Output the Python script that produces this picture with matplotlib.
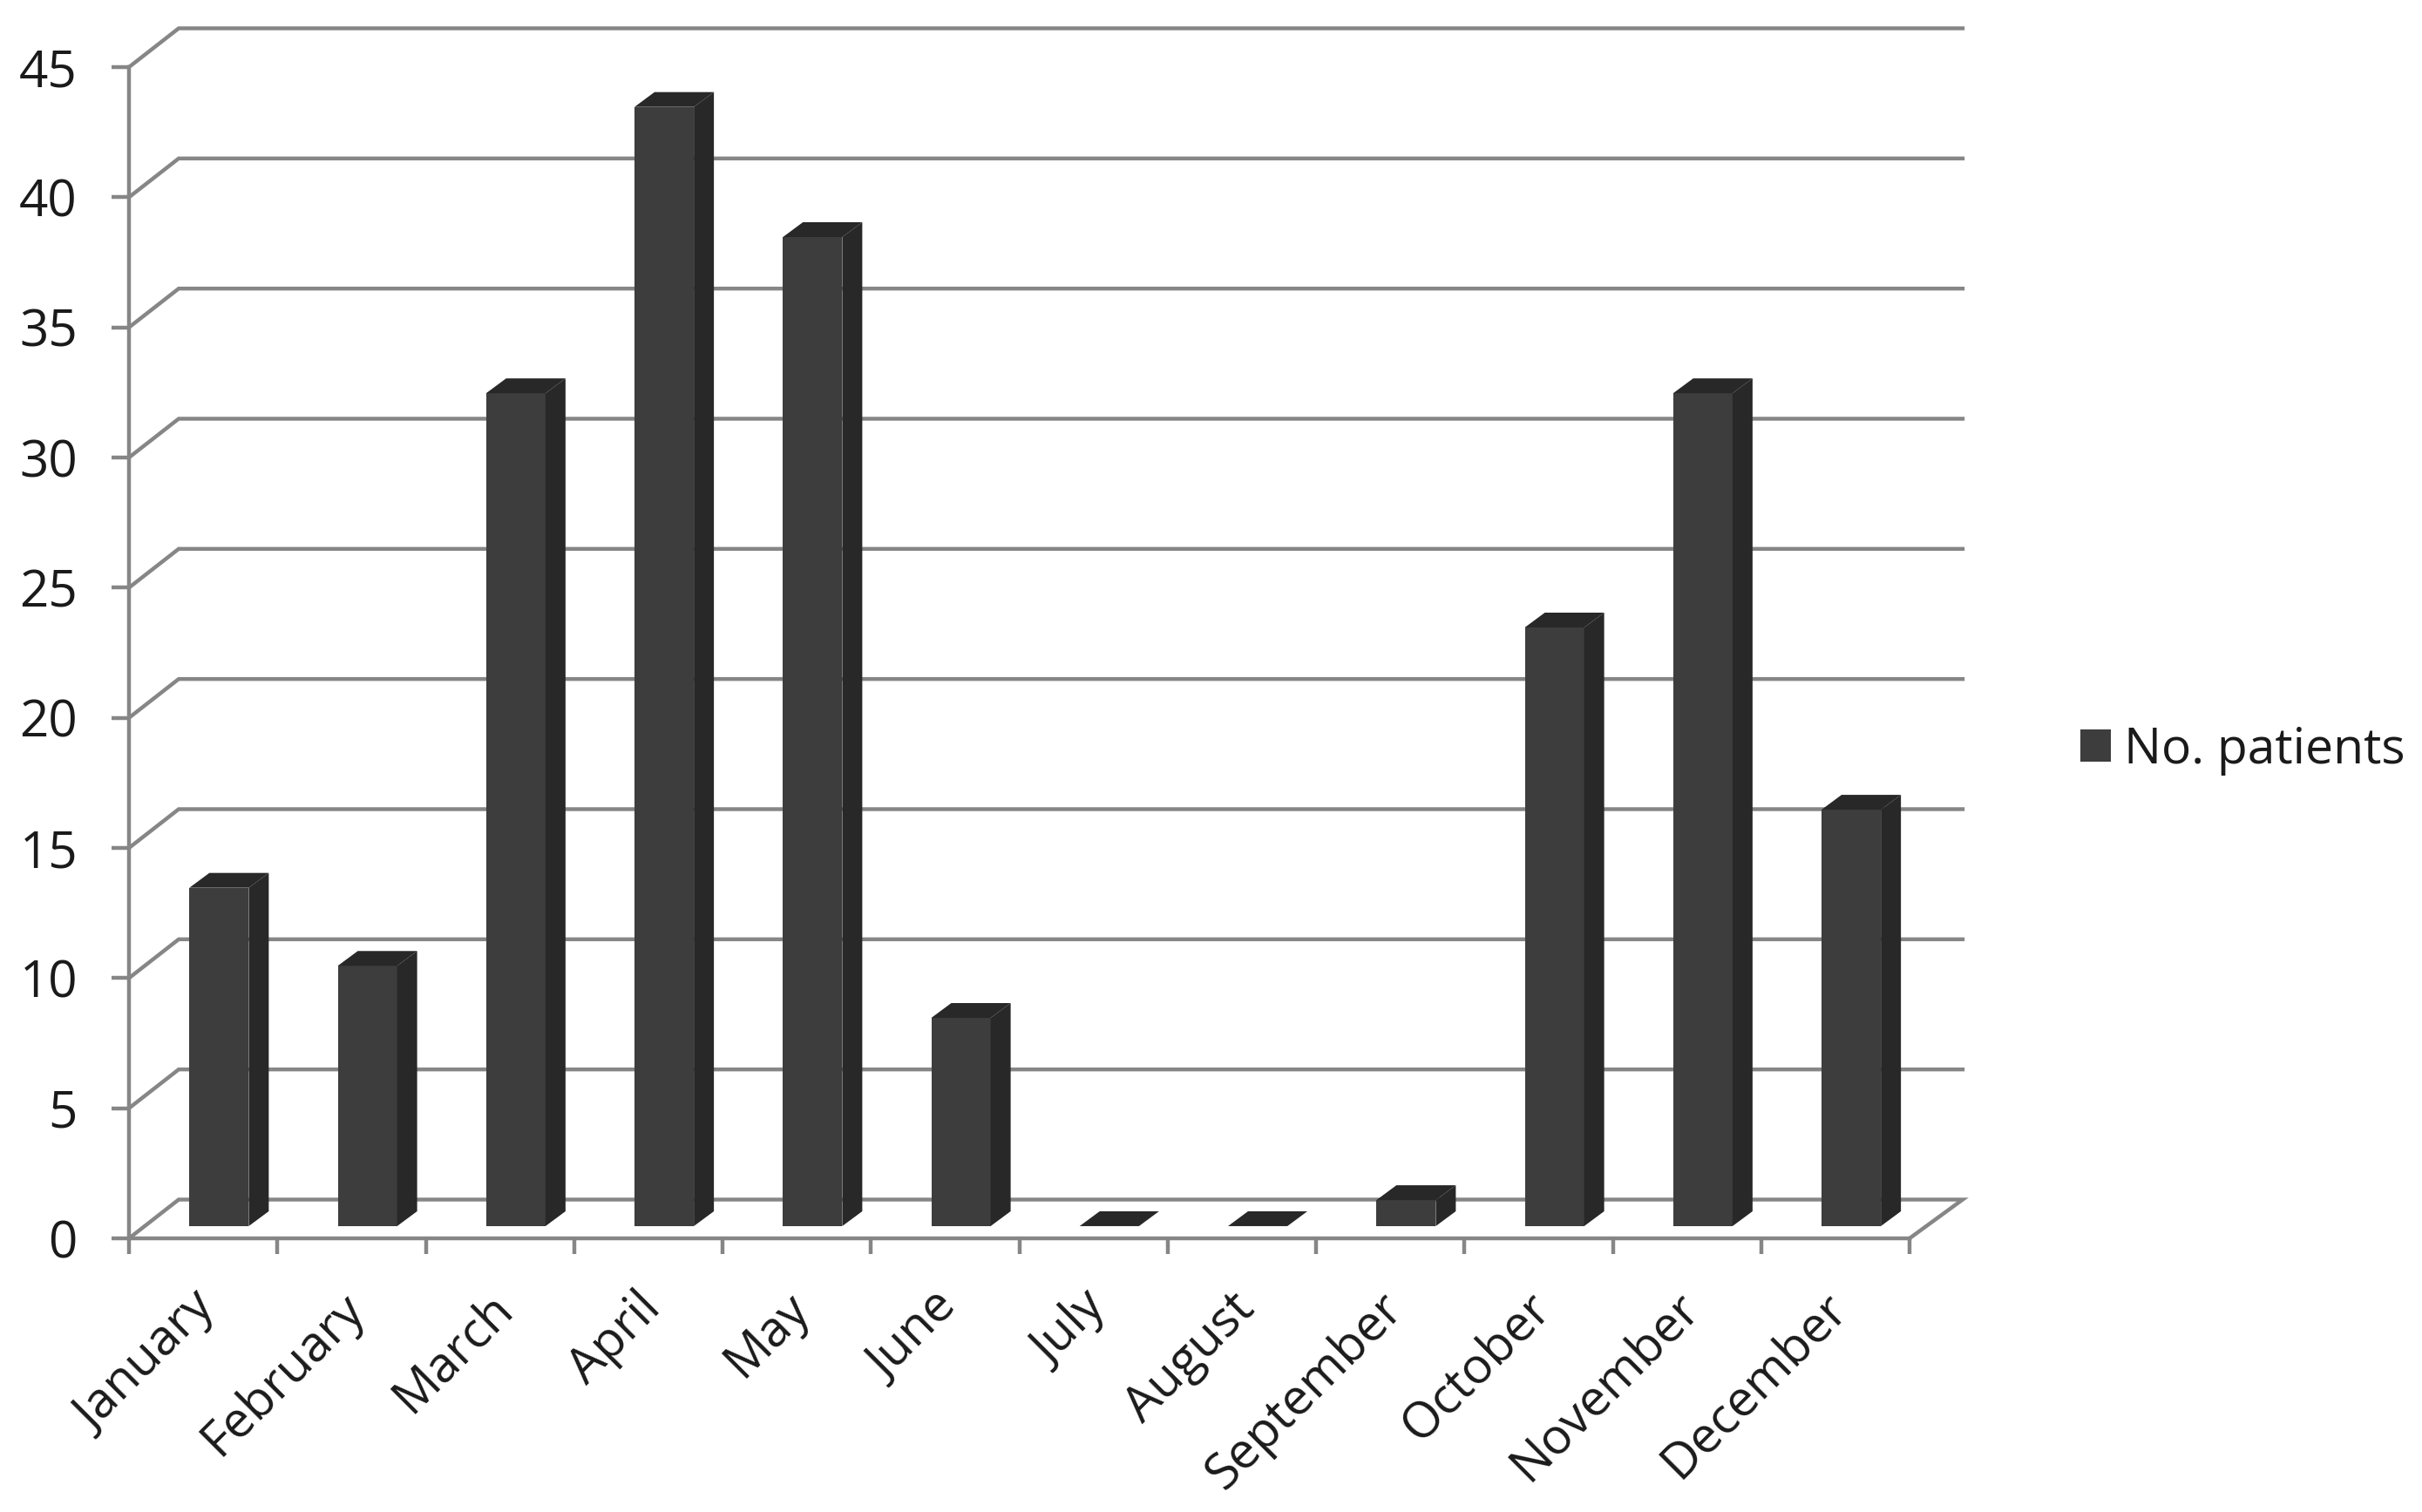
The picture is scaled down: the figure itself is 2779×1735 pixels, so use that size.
import numpy as np
import matplotlib
matplotlib.use("Agg")
import matplotlib.pyplot as plt
from matplotlib.patches import Polygon
from matplotlib.ticker import FixedLocator, NullFormatter
from matplotlib.transforms import ScaledTranslation

months = ["January", "February", "March", "April", "May", "June", "July",
          "August", "September", "October", "November", "December"]
patients = [13, 10, 32, 43, 38, 8, 0, 0, 1, 23, 32, 16]
y_ticks = [0, 5, 10, 15, 20, 25, 30, 35, 40, 45]

W, H = 2779, 1735
front_color = "#3d3d3d"
side_color = "#282828"
grid_color = "#868686"
text_color = "#1a1a1a"

plt.rcParams['font.family'] = ['Open Sans', 'DejaVu Sans']

fig = plt.figure(figsize=(W/100, H/100), dpi=100)
# front plane of the fake 3d box
ax = fig.add_axes([148/W, 1-1421/H, (2191-148)/W, (1421-77)/H])
ax.set_xlim(0, 12)
ax.set_ylim(0, 45)

# depth offsets, data units
wall_dx_left = 0.335
wall_dx_right = 0.358
wall_dy = 1.49
bar_floor = 0.47
bar_shift = 0.107
bar_width = 0.40
bar_dx = 0.135
bar_dy = 0.57

# back wall gridlines, also the floor
for v in y_ticks:
    xs = [0, wall_dx_left, 12+wall_dx_right]
    ys = [v, v+wall_dy, v+wall_dy]
    if v == 0:
        xs.append(12)
        ys.append(0)
    ax.plot(xs, ys, color=grid_color, lw=3.2, clip_on=False, zorder=1,
            solid_joinstyle='miter')

x = np.arange(len(months)) + 0.5 + bar_shift
vals = np.array(patients)
bars = ax.bar(x, vals, width=bar_width, bottom=bar_floor, color=front_color,
              label="No. patients", zorder=3, clip_on=False)

# side and top faces
for xc, v in zip(x, vals):
    l, r = xc-bar_width/2, xc+bar_width/2
    t = v + bar_floor
    if v > 0:
        ax.add_patch(Polygon([(r, bar_floor), (r+bar_dx, bar_floor+bar_dy),
                              (r+bar_dx, t+bar_dy), (r, t)],
                             closed=True, fc=side_color, ec='none', zorder=3, clip_on=False))
    ax.add_patch(Polygon([(l, t), (l+bar_dx, t+bar_dy), (r+bar_dx, t+bar_dy), (r, t)],
                         closed=True, fc=side_color, ec='none', zorder=3, clip_on=False))

for s in ['top', 'right']:
    ax.spines[s].set_visible(False)
for s in ['left', 'bottom']:
    ax.spines[s].set_color(grid_color)
    ax.spines[s].set_linewidth(3.2)
    ax.spines[s].set_zorder(2)

ax.set_yticks(y_ticks)
ax.tick_params(axis='y', length=14.5, width=3.2, color=grid_color, labelsize=42,
               pad=28, labelcolor=text_color)
ax.set_xticks(np.arange(13))
ax.xaxis.set_major_formatter(NullFormatter())
ax.tick_params(axis='x', which='major', length=13, width=3.2, color=grid_color)
ax.xaxis.set_minor_locator(FixedLocator(np.arange(12)+0.5))
ax.set_xticklabels(months, minor=True, rotation=45, ha='right', rotation_mode='anchor',
                   fontsize=41, color=text_color)
ax.tick_params(axis='x', which='minor', length=0, pad=36)
# labels sit a bit left of the category centre
shift = ScaledTranslation(-14/100, -2/100, fig.dpi_scale_trans)
for lab in ax.get_xticklabels(minor=True):
    lab.set_transform(lab.get_transform() + shift)

leg = ax.legend(loc='center left', bbox_to_anchor=(2387/W, 1-861/H), bbox_transform=fig.transFigure,
                frameon=False, fontsize=41, handlelength=0.61, handleheight=0.61,
                handletextpad=0.27, borderpad=0, borderaxespad=0, labelcolor=text_color)

fig.savefig("out.png", dpi=100, facecolor='white')
